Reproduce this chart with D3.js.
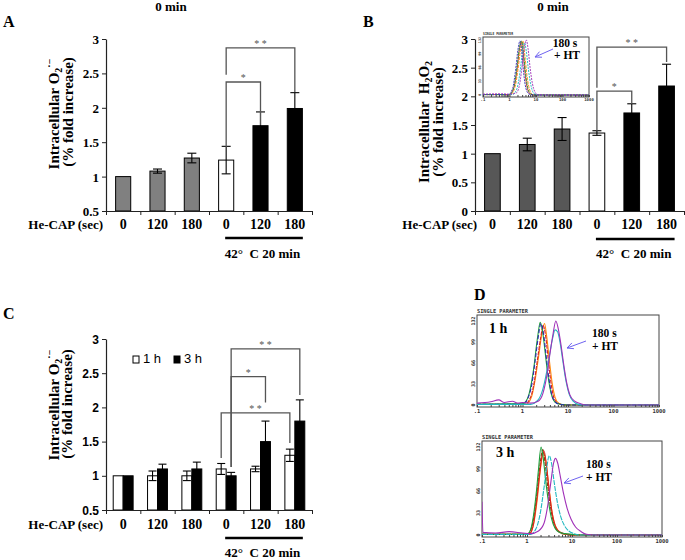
<!DOCTYPE html>
<html><head><meta charset="utf-8">
<script src="https://cdn.jsdelivr.net/npm/d3@7"></script>
<style>
body{margin:0;background:#fff;}
svg{display:block;}
text{white-space:pre;}
</style></head><body>
<svg id="fig" width="685" height="560"></svg>
<script>
// ---------------- DATA ----------------
const categories = ["0","120","180","0","120","180"];
const conditions = ["CAP","CAP","CAP","HT","HT+CAP","HT+CAP"];
const heatLabel = "42°  C 20 min";
const xAxisLabel = "He-CAP (sec)";

const o2Values0min = [1.00,1.08,1.27,1.24,1.74,1.99];
const o2Errors0min = [0,0.03,0.07,0.20,0.20,0.23];
const h2o2Values0min = [1.00,1.16,1.43,1.36,1.71,2.18];
const h2o2Errors0min = [0,0.11,0.20,0.04,0.16,0.38];
const o2Values1h = [1.0,1.0,1.0,1.1,1.1,1.3];
const o2Errors1h = [0,0.07,0.07,0.08,0.04,0.09];
const o2Values3h = [1.0,1.1,1.1,1.0,1.5,1.8];
const o2Errors3h = [0,0.07,0.10,0.05,0.30,0.31];

const ticksAC = [0.5,1,1.5,2,2.5,3];
const ticksB = [0,0.5,1,1.5,2,2.5,3];

const sigA = [
  {from:3,to:4,top:2.375,left:1.43,right:1.75,label:"*"},
  {from:3,to:5,top:2.87,left:2.48,right:2.23,label:"* *"}];
const sigB = [
  {from:3,to:4,top:2.09,left:1.40,right:1.87,label:"*"},
  {from:3,to:5,top:2.86,left:2.15,right:2.60,label:"* *"}];
const sigC = [
  {from:3,fs:1,to:4,ts:1,top:2.45,left:1.13,right:2.07,label:"*"},
  {from:3,fs:1,to:5,ts:1,top:2.857,left:1.13,right:2.18,label:"* *"},
  {from:3,fs:0,to:5,ts:0,top:1.92,left:1.26,right:1.48,label:"* *"}];

const legendC = ["1 h","3 h"];

const histLogTicks = [0.1,1,10,100,1000];
const histLogLabels = [".1","1","10","100","1000"];
const histCountTicks = [0,33,66,99,132];

// flow cytometry histograms: [fluorescence, count]
const inGreen   = [[0.1,1],[1.0,1],[1.5,20],[1.9,65],[2.4,115],[2.9,130],[3.4,100],[4.0,55],[5.0,15],[6.5,2],[10,0],[1000,0]];
const inBlue    = [[0.1,1],[0.9,1],[1.3,15],[1.7,60],[2.1,110],[2.5,130],[2.9,105],[3.4,55],[4.2,15],[5.5,2],[10,0],[1000,0]];
const inOrange  = [[0.1,1],[1.1,1],[1.6,18],[2.1,62],[2.7,115],[3.2,130],[3.8,95],[4.6,45],[5.8,12],[7.5,1],[12,0],[1000,0]];
const inRed     = [[0.1,1],[1.0,1],[1.4,14],[1.9,58],[2.4,112],[2.8,128],[3.3,98],[3.9,50],[4.8,14],[6.2,2],[10,0],[1000,0]];
const inCyan    = [[0.1,1],[1.3,1],[1.9,15],[2.5,55],[3.1,105],[3.7,125],[4.3,105],[5.2,60],[6.5,22],[8.5,3],[14,0],[1000,0]];
const inMagenta = [[0.1,2],[0.5,3],[1.0,2],[1.8,5],[2.4,25],[3.0,70],[3.6,112],[4.3,132],[5.0,112],[6.0,65],[7.3,28],[9,8],[11.5,1],[20,0],[1000,0]];

const h1Green   = [[0.1,1],[0.5,2],[1.0,2],[1.2,6],[1.4,18],[1.6,38],[1.8,62],[2.0,90],[2.2,112],[2.45,130],[2.7,120],[3.0,96],[3.3,70],[3.7,42],[4.2,20],[4.8,8],[5.6,3],[7,1],[10,0],[1000,0]];
const h1Navy    = [[0.1,1],[1.0,1],[1.3,10],[1.6,32],[1.9,70],[2.2,105],[2.55,128],[2.9,112],[3.3,78],[3.8,42],[4.4,16],[5.2,5],[6.5,1],[10,0],[1000,0]];
const h1Red     = [[0.1,1],[1.1,1],[1.5,12],[1.8,35],[2.1,68],[2.5,105],[2.85,125],[3.2,110],[3.6,78],[4.1,42],[4.7,16],[5.5,5],[7,1],[10,0],[1000,0]];
const h1Orange  = [[0.1,1],[1.2,1],[1.6,14],[1.9,40],[2.3,80],[2.7,115],[3.05,128],[3.4,108],[3.9,70],[4.5,34],[5.2,12],[6.2,3],[8,0],[1000,0]];
const h1Cyan    = [[0.1,1],[1.5,1],[2.2,8],[2.8,25],[3.4,52],[4.0,82],[4.6,105],[5.2,118],[5.9,115],[6.7,98],[7.6,72],[8.8,42],[10.5,18],[13,6],[17,1],[25,0],[1000,0]];
const h1Magenta = [[0.1,3],[0.2,5],[0.3,8],[0.4,4],[0.6,6],[0.8,3],[1.0,4],[1.5,3],[2.2,6],[2.8,18],[3.4,45],[4.0,80],[4.7,112],[5.4,132],[6.1,120],[7.0,95],[8.0,65],[9.3,36],[11,16],[14,6],[19,2],[25,0],[1000,0]];

const h3Green   = [[0.1,1],[1.0,1],[1.2,8],[1.4,30],[1.6,62],[1.8,98],[2.05,132],[2.3,115],[2.6,82],[3.0,50],[3.5,25],[4.2,10],[5.2,4],[7,2],[10,1],[15,0],[1000,0]];
const h3Brown   = [[0.1,1],[1.0,1],[1.25,10],[1.5,38],[1.75,78],[2.0,112],[2.25,128],[2.5,110],[2.9,72],[3.4,38],[4.0,16],[5,5],[7,1],[10,0],[1000,0]];
const h3Red     = [[0.1,1],[1.1,1],[1.35,12],[1.6,45],[1.9,90],[2.15,118],[2.4,126],[2.7,105],[3.1,68],[3.6,34],[4.3,13],[5.5,4],[8,1],[12,0],[1000,0]];
const h3Orange  = [[0.1,1],[1.1,1],[1.4,16],[1.7,55],[2.0,100],[2.3,124],[2.6,112],[3.0,78],[3.5,40],[4.2,15],[5.2,5],[7,1],[10,0],[1000,0]];
const h3Cyan    = [[0.1,1],[1.2,1],[1.6,10],[2.0,35],[2.4,72],[2.8,105],[3.1,119],[3.5,108],[4.0,80],[4.7,50],[5.6,28],[6.8,14],[8.5,6],[11,2],[14,0],[1000,0]];
const h3Magenta = [[0.1,50],[0.105,4],[0.2,3],[0.4,5],[0.8,3],[1.2,2],[1.8,6],[2.4,18],[2.9,45],[3.4,80],[3.9,108],[4.3,115],[4.8,108],[5.5,88],[6.5,62],[7.8,40],[9.5,24],[12,12],[16,5],[21,1],[30,0],[1000,0]];

// ---------------- DRAWING ----------------
const svg = d3.select("#fig");
const SERIF = '"Liberation Serif","Times New Roman",serif';
const SANS = '"Liberation Sans",Arial,sans-serif';
const MONO = '"DejaVu Sans Mono","Liberation Mono",monospace';

function txt(g, x, y, s, size, o = {}) {
  return g.append("text").attr("x", x).attr("y", y).text(s)
    .attr("font-family", o.family || SERIF)
    .attr("font-weight", o.weight || "bold")
    .attr("font-size", size)
    .attr("text-anchor", o.anchor || "start")
    .attr("fill", o.fill || "#000");
}

const colorA = d3.scaleOrdinal().domain(["CAP","HT","HT+CAP"]).range(["#808080","#ffffff","#000000"]);
const colorB = d3.scaleOrdinal().domain(["CAP","HT","HT+CAP"]).range(["#575757","#ffffff","#000000"]);
const colorC = d3.scaleOrdinal().domain(legendC).range(["#ffffff","#000000"]);

function barPanel(p) {
  const g = svg.append("g");
  const n = categories.length;
  const x = d3.scaleBand().domain(d3.range(n)).range([p.x0, p.x1]);
  const xb = d3.scaleLinear().domain([0, n]).range([p.x0, p.x1]);
  const y = p.y;
  const base = y.range()[0];
  const cx = i => x(i) + x.bandwidth() / 2;
  const sx = (i, s) => cx(i) + x.bandwidth() * p.series[s].off;

  p.series.forEach((s, si) => {
    const w = x.bandwidth() * s.w;
    g.append("g").selectAll("rect").data(s.values).join("rect")
      .attr("x", (d, i) => sx(i, si) - w / 2)
      .attr("y", d => y(d))
      .attr("width", w)
      .attr("height", d => base - y(d))
      .attr("fill", (d, i) => s.fill(i))
      .attr("stroke", "#000").attr("stroke-width", 1);
    const eg = g.append("g").attr("stroke", "#000").attr("stroke-width", 1.1);
    s.values.forEach((v, i) => {
      const e = s.errors[i];
      if (!e) return;
      const xc = sx(i, si), hw = s.cap / 2;
      eg.append("line").attr("x1", xc).attr("x2", xc).attr("y1", y(v - e)).attr("y2", y(v + e));
      eg.append("line").attr("x1", xc - hw).attr("x2", xc + hw).attr("y1", y(v - e)).attr("y2", y(v - e));
      eg.append("line").attr("x1", xc - hw).attr("x2", xc + hw).attr("y1", y(v + e)).attr("y2", y(v + e));
    });
  });

  // y axis
  const gy = g.append("g").attr("transform", `translate(${p.x0},0)`)
    .call(d3.axisLeft(y).tickValues(p.ticks).tickSize(4).tickSizeOuter(0).tickPadding(3).tickFormat(d => String(d)));
  gy.select(".domain").attr("stroke", "#222").attr("stroke-width", 1.2);
  gy.selectAll(".tick line").attr("stroke", "#222");
  gy.selectAll(".tick text").attr("font-family", p.tickFamily).attr("font-weight", "bold")
    .attr("font-size", p.tickSize).attr("fill", "#000").attr("dy", "0.34em");

  // x axis
  const gx = g.append("g").attr("transform", `translate(0,${base})`)
    .call(d3.axisBottom(xb).tickValues(d3.range(n + 1)).tickSize(4).tickSizeOuter(0).tickFormat(""));
  gx.select(".domain").attr("stroke", "#222").attr("stroke-width", 1.2);
  gx.selectAll(".tick line").attr("stroke", "#222");

  categories.forEach((c, i) => txt(g, cx(i), p.catY, c, 14, {anchor: "middle"}));
  txt(g, p.heX, p.catY, xAxisLabel, 13, {anchor: "end"});
  g.append("line").attr("x1", cx(3) - 1).attr("x2", cx(5) + 8)
    .attr("y1", p.underY).attr("y2", p.underY).attr("stroke", "#000").attr("stroke-width", 2.5);
  txt(g, (cx(3) + cx(5)) / 2 + 2, p.tempY, heatLabel, 13, {anchor: "middle"});

  // significance brackets
  const bg = g.append("g");
  p.sig.forEach(s => {
    const xl = s.fs === undefined ? cx(s.from) : sx(s.from, s.fs);
    const xr = s.ts === undefined ? cx(s.to) : sx(s.to, s.ts);
    bg.append("path").attr("d", `M${xl},${y(s.left)}V${y(s.top)}H${xr}V${y(s.right)}`)
      .attr("fill", "none").attr("stroke", "#555").attr("stroke-width", 1.3);
    txt(bg, (xl + xr) / 2, y(s.top) - 1, s.label, 10, {anchor: "middle", fill: "#555", weight: "normal"});
  });

  // y title
  const t1 = g.append("text").attr("transform", `translate(${p.tx1},${p.ty1}) rotate(-90)`)
    .attr("font-family", SERIF).attr("font-weight", "bold").attr("font-size", 15).attr("text-anchor", "middle");
  p.title(t1);
  g.append("text").attr("transform", `translate(${p.tx2},${p.ty2}) rotate(-90)`)
    .attr("font-family", SERIF).attr("font-weight", "bold").attr("font-size", 15).attr("text-anchor", "middle")
    .text("(% fold increase)");
  return {g, x, y, cx};
}

function o2Title(t) {
  t.append("tspan").text("Intracellular O");
  t.append("tspan").text("2").attr("font-size", 10).attr("dy", 3);
  t.append("tspan").text("·−").attr("font-size", 10).attr("dy", -9);
}
function h2o2Title(t) {
  t.append("tspan").text("Intracellular  H");
  t.append("tspan").text("2").attr("font-size", 10).attr("dy", 3);
  t.append("tspan").text("O").attr("dy", -3);
  t.append("tspan").text("2").attr("font-size", 10).attr("dy", 3);
}

// Panel A
barPanel({
  x0: 106, x1: 312, y: d3.scaleLinear().domain([0.5, 3]).range([211, 39]),
  ticks: ticksAC, tickFamily: SERIF, tickSize: 13,
  series: [{values: o2Values0min, errors: o2Errors0min, off: 0, w: 0.44, cap: 9, fill: i => colorA(conditions[i])}],
  sig: sigA, catY: 229, heX: 103, underY: 238, tempY: 258,
  tx1: 59, ty1: 114, tx2: 73, ty2: 112, title: o2Title
});
// Panel B
barPanel({
  x0: 475, x1: 684, y: d3.scaleLinear().domain([0, 3]).range([211, 39]),
  ticks: ticksB, tickFamily: SERIF, tickSize: 13,
  series: [{values: h2o2Values0min, errors: h2o2Errors0min, off: 0, w: 0.45, cap: 9, fill: i => colorB(conditions[i])}],
  sig: sigB, catY: 229, heX: 477, underY: 239, tempY: 258,
  tx1: 429, ty1: 122, tx2: 443, ty2: 122, title: h2o2Title
});
// Panel C
barPanel({
  x0: 106, x1: 312, y: d3.scaleLinear().domain([0.5, 3]).range([510, 339]),
  ticks: ticksAC, tickFamily: SANS, tickSize: 12,
  series: [
    {values: o2Values1h, errors: o2Errors1h, off: -0.145, w: 0.29, cap: 8, fill: () => colorC("1 h")},
    {values: o2Values3h, errors: o2Errors3h, off: 0.145, w: 0.29, cap: 8, fill: () => colorC("3 h")}],
  sig: sigC, catY: 529, heX: 103, underY: 538, tempY: 557,
  tx1: 59, ty1: 405, tx2: 72, ty2: 404, title: o2Title
});
// legend C
const lg = svg.append("g");
legendC.forEach((l, i) => {
  const lx = 133 + i * 41;
  lg.append("rect").attr("x", lx).attr("y", 356).attr("width", 6).attr("height", 7)
    .attr("fill", colorC(l)).attr("stroke", "#000").attr("stroke-width", 1);
  txt(lg, lx + 10, 363, l, 13, {family: SANS, weight: "normal"});
});

// Titles and panel letters
txt(svg, 171, 11, "0 min", 13, {anchor: "middle"});
txt(svg, 553, 11, "0 min", 13, {anchor: "middle"});
txt(svg, 3, 27, "A", 16);
txt(svg, 363, 27, "B", 16);
txt(svg, 3, 319, "C", 16);
txt(svg, 474, 300, "D", 16);

// ---------------- Histograms ----------------
const curveColors = {green: "#1e9e3a", navy: "#2a2ab0", red: "#d92020", orange: "#ff8a10",
  brown: "#8a3a10", cyan: "#20b8c0", magenta: "#a030b8"};
let clipId = 0;
function histogram(box, curves, o) {
  const g = svg.append("g");
  const xs = d3.scaleLog().domain([0.1, 1000]).range([box.x, box.x + box.w]);
  const ys = d3.scaleLinear().domain([0, 132]).range([box.y + box.h - 2, box.y + o.topPad]);
  g.append("rect").attr("x", box.x).attr("y", box.y).attr("width", box.w).attr("height", box.h)
    .attr("fill", "#fff").attr("stroke", "#444").attr("stroke-width", 1);
  const id = "clip" + (clipId++);
  g.append("clipPath").attr("id", id).append("rect")
    .attr("x", box.x).attr("y", box.y).attr("width", box.w).attr("height", box.h);
  const line = d3.line().x(d => xs(d[0])).y(d => ys(d[1])).curve(d3.curveMonotoneX);
  const cg = g.append("g").attr("clip-path", `url(#${id})`);
  curves.forEach(c => cg.append("path").datum(c.pts).attr("d", line)
    .attr("fill", "none").attr("stroke", curveColors[c.color]).attr("stroke-width", o.sw)
    .attr("stroke-dasharray", c.dash || null));
  const minor = [];
  histLogTicks.slice(0, 4).forEach(d => d3.range(1, 10).forEach(k => minor.push(d * k)));
  minor.push(1000);
  g.append("g").attr("transform", `translate(0,${box.y + box.h})`)
    .call(d3.axisBottom(xs).tickValues(minor).tickSize(-2).tickFormat(""))
    .call(a => a.select(".domain").remove())
    .selectAll("line").attr("stroke", "#444");
  histLogTicks.forEach((v, i) => txt(g, xs(v), box.y + box.h + o.lab + 5, histLogLabels[i], o.font,
    {family: MONO, anchor: "middle", fill: "#333"}));
  histCountTicks.forEach(v => g.append("text")
    .attr("transform", `translate(${box.x - 2},${ys(v)}) rotate(-90)`)
    .attr("font-family", MONO).attr("font-size", o.font - 0.5).attr("font-weight", "bold")
    .attr("fill", "#333").attr("text-anchor", "middle").text(String(v)));
  txt(g, box.x, box.y - 2, "SINGLE PARAMETER", o.font, {family: MONO, fill: "#333"})
    .attr("textLength", o.spLen).attr("lengthAdjust", "spacingAndGlyphs");
  return {g, xs, ys};
}

function arrow(g, x1, y1, x2, y2) {
  const a = Math.atan2(y2 - y1, x2 - x1), L = 7, s = 0.45;
  const p = `M${x1},${y1}L${x2},${y2}M${x2 - L * Math.cos(a - s)},${y2 - L * Math.sin(a - s)}L${x2},${y2}L${x2 - L * Math.cos(a + s)},${y2 - L * Math.sin(a + s)}`;
  g.append("path").attr("d", p).attr("fill", "none").attr("stroke", "#6f63f0").attr("stroke-width", 1);
}

// B inset
const hi = histogram({x: 483, y: 37, w: 106, h: 60}, [
  {pts: inRed, color: "red"}, {pts: inOrange, color: "orange", dash: "3,1"},
  {pts: inGreen, color: "green", dash: "3,1"}, {pts: inCyan, color: "cyan", dash: "2,1"},
  {pts: inBlue, color: "navy", dash: "2,1"}, {pts: inMagenta, color: "magenta", dash: "2,1"}],
  {topPad: 3, sw: 0.9, font: 4, lab: -1, spLen: 30});
txt(hi.g, 565, 47, "180 s", 11.5, {anchor: "middle"});
txt(hi.g, 567, 59, "+ HT", 11.5, {anchor: "middle"});
arrow(hi.g, 553, 49, 535, 57);

// D 1h
const h1 = histogram({x: 477, y: 315, w: 182, h: 92}, [
  {pts: h1Orange, color: "orange"}, {pts: h1Red, color: "red", dash: "4,1"},
  {pts: h1Green, color: "green"}, {pts: h1Navy, color: "navy", dash: "4,2"},
  {pts: h1Cyan, color: "cyan"}, {pts: h1Magenta, color: "magenta"}],
  {topPad: 6, sw: 1.1, font: 5.5, lab: 1, spLen: 51});
txt(h1.g, 489, 333, "1 h", 14);
txt(h1.g, 592, 337, "180 s", 11.5);
txt(h1.g, 592, 350, "+ HT", 11.5);
arrow(h1.g, 586, 341, 567, 348);

// D 3h
const h3 = histogram({x: 482, y: 441, w: 180, h: 96}, [
  {pts: h3Orange, color: "orange"}, {pts: h3Brown, color: "brown", dash: "4,1"},
  {pts: h3Red, color: "red"}, {pts: h3Green, color: "green"},
  {pts: h3Cyan, color: "cyan", dash: "5,1"}, {pts: h3Magenta, color: "magenta"}],
  {topPad: 6, sw: 1.1, font: 5.5, lab: 1, spLen: 51});
txt(h3.g, 496, 457, "3 h", 14);
txt(h3.g, 586, 468, "180 s", 11.5);
txt(h3.g, 586, 481, "+ HT", 11.5);
arrow(h3.g, 583, 476, 564, 483);
</script>
</body></html>
